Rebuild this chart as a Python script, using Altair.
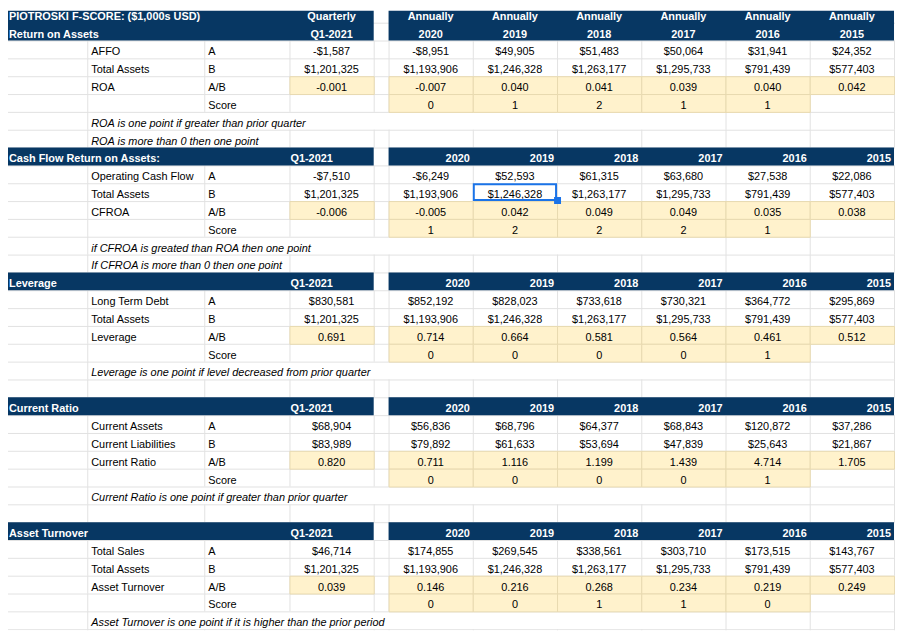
import altair as alt
import pandas as pd

# ---------------- data ----------------
YEARS = ["2020", "2019", "2018", "2017", "2016", "2015"]
QUARTER = "Q1-2021"

TOTAL_ASSETS_Q1 = 1201325
TOTAL_ASSETS = [1193906, 1246328, 1263177, 1295733, 791439, 577403]

AFFO_Q1 = -1587
AFFO = [-8951, 49905, 51483, 50064, 31941, 24352]
ROA_Q1 = -0.001
ROA = [-0.007, 0.040, 0.041, 0.039, 0.040, 0.042]
ROA_SCORE = [0, 1, 2, 1, 1]

OCF_Q1 = -7510
OCF = [-6249, 52593, 61315, 63680, 27538, 22086]
CFROA_Q1 = -0.006
CFROA = [-0.005, 0.042, 0.049, 0.049, 0.035, 0.038]
CFROA_SCORE = [1, 2, 2, 2, 1]

LTD_Q1 = 830581
LTD = [852192, 828023, 733618, 730321, 364772, 295869]
LEVERAGE_Q1 = 0.691
LEVERAGE = [0.714, 0.664, 0.581, 0.564, 0.461, 0.512]
LEVERAGE_SCORE = [0, 0, 0, 0, 1]

CUR_ASSETS_Q1 = 68904
CUR_ASSETS = [56836, 68796, 64377, 68843, 120872, 37286]
CUR_LIAB_Q1 = 83989
CUR_LIAB = [79892, 61633, 53694, 47839, 25643, 21867]
CUR_RATIO_Q1 = 0.820
CUR_RATIO = [0.711, 1.116, 1.199, 1.439, 4.714, 1.705]
CUR_RATIO_SCORE = [0, 0, 0, 0, 1]

SALES_Q1 = 46714
SALES = [174855, 269545, 338561, 303710, 173515, 143767]
TURNOVER_Q1 = 0.039
TURNOVER = [0.146, 0.216, 0.268, 0.234, 0.219, 0.249]
TURNOVER_SCORE = [0, 0, 1, 1, 0]

SECTIONS = [
    dict(title="Return on Assets", head=0, nhead=2,
         lines=[("AFFO", "A", AFFO_Q1, AFFO, "money"),
                ("Total Assets", "B", TOTAL_ASSETS_Q1, TOTAL_ASSETS, "money"),
                ("ROA", "A/B", ROA_Q1, ROA, "ratio")],
         score=ROA_SCORE,
         notes=["ROA is one point if greater than prior quarter",
                "ROA is more than 0 then one point"]),
    dict(title="Cash Flow Return on Assets:", head=8, nhead=1,
         lines=[("Operating Cash Flow", "A", OCF_Q1, OCF, "money"),
                ("Total Assets", "B", TOTAL_ASSETS_Q1, TOTAL_ASSETS, "money"),
                ("CFROA", "A/B", CFROA_Q1, CFROA, "ratio")],
         score=CFROA_SCORE,
         notes=["if CFROA is greated than ROA then one point",
                "If CFROA is more than 0 then one point"]),
    dict(title="Leverage", head=15, nhead=1,
         lines=[("Long Term Debt", "A", LTD_Q1, LTD, "money"),
                ("Total Assets", "B", TOTAL_ASSETS_Q1, TOTAL_ASSETS, "money"),
                ("Leverage", "A/B", LEVERAGE_Q1, LEVERAGE, "ratio")],
         score=LEVERAGE_SCORE,
         notes=["Leverage is one point if level decreased from prior quarter"]),
    dict(title="Current Ratio", head=22, nhead=1,
         lines=[("Current Assets", "A", CUR_ASSETS_Q1, CUR_ASSETS, "money"),
                ("Current Liabilities", "B", CUR_LIAB_Q1, CUR_LIAB, "money"),
                ("Current Ratio", "A/B", CUR_RATIO_Q1, CUR_RATIO, "ratio")],
         score=CUR_RATIO_SCORE,
         notes=["Current Ratio is one point if greater than prior quarter"]),
    dict(title="Asset Turnover", head=29, nhead=1,
         lines=[("Total Sales", "A", SALES_Q1, SALES, "money"),
                ("Total Assets", "B", TOTAL_ASSETS_Q1, TOTAL_ASSETS, "money"),
                ("Asset Turnover", "A/B", TURNOVER_Q1, TURNOVER, "ratio")],
         score=TURNOVER_SCORE,
         notes=["Asset Turnover is one point if it is higher than the prior period"]),
]
MAIN_TITLE = "PIOTROSKI F-SCORE: ($1,000s USD)"

# ---------------- layout (sheet pixel units) ----------------
PAGE_MARGIN = 8
SHEET_W, SHEET_H = 903, 641
W = SHEET_W - PAGE_MARGIN
H = SHEET_H - 2 * PAGE_MARGIN          # keep the page from overflowing vertically
ROW_H = 18
TOP = 2
N_ROWS = 36
EDGES = [3, 88, 206, 292, 377, 392, 477, 562, 647, 732, 817, 902]
Q_COL = 3
YEAR_COLS = [5, 6, 7, 8, 9, 10]
NAVY = "#073763"
YELLOW = "#fff2cc"
YELLOW_LINE = "#e8dab0"
GRID = "#e2e2e2"
FONT = "Arial, Liberation Sans"
FS = 11


def rt(i):
    return TOP + ROW_H * i


def cx(c):
    return (EDGES[c] + EDGES[c + 1]) / 2


def money(v):
    s = "${:,}".format(abs(v))
    return "-" + s if v < 0 else s


def ratio(v):
    return "{:.3f}".format(v)


def fmt(v, kind):
    return money(v) if kind == "money" else ratio(v)


header_rows = set()
first_note_rows, second_note_rows = set(), set()
for s in SECTIONS:
    for k in range(s["nhead"]):
        header_rows.add(s["head"] + k)
    d0 = s["head"] + s["nhead"]
    first_note_rows.add(d0 + 4)
    if len(s["notes"]) > 1:
        second_note_rows.add(d0 + 5)

# gridlines
hlines = pd.DataFrame([{"x": 0, "x2": SHEET_W, "y": rt(i) + 0.5} for i in range(N_ROWS + 1)])
vl = []
for r in range(N_ROWS):
    if r in header_rows:
        continue
    for e in EDGES:
        if r in first_note_rows and e in (206, 292, 377, 392, 477, 562, 647):
            continue
        if r in second_note_rows and e == 206:
            continue
        vl.append({"x": e + 0.5, "y": rt(r), "y2": rt(r + 1)})
vlines = pd.DataFrame(vl)

# fills and texts
yel, dark = [], []
wl, wc, wr, bl, bc, il = [], [], [], [], [], []
for s in SECTIONS:
    h, nh = s["head"], s["nhead"]
    d0 = h + nh
    dark.append({"x": EDGES[0], "x2": EDGES[4], "y": rt(h), "y2": rt(h + nh)})
    dark.append({"x": EDGES[5], "x2": EDGES[11], "y": rt(h), "y2": rt(h + nh)})
    base = 15
    if nh == 2:
        wl.append({"x": 9, "y": rt(h) + base, "t": MAIN_TITLE})
        wl.append({"x": 9, "y": rt(h + 1) + base, "t": s["title"]})
        wc.append({"x": cx(Q_COL), "y": rt(h) + base, "t": "Quarterly"})
        wc.append({"x": cx(Q_COL), "y": rt(h + 1) + base, "t": QUARTER})
        for c, yr in zip(YEAR_COLS, YEARS):
            wc.append({"x": cx(c), "y": rt(h) + base, "t": "Annually"})
            wc.append({"x": cx(c), "y": rt(h + 1) + base, "t": yr})
    else:
        wl.append({"x": 9, "y": rt(h) + base, "t": s["title"]})
        wl.append({"x": EDGES[Q_COL] + 1, "y": rt(h) + base, "t": QUARTER})
        for c, yr in zip(YEAR_COLS, YEARS):
            wr.append({"x": EDGES[c + 1] - 3, "y": rt(h) + base, "t": yr})
    for k, (lab, letter, q, vals, kind) in enumerate(s["lines"]):
        r = d0 + k
        bl.append({"x": EDGES[1] + 4, "y": rt(r) + base, "t": lab})
        bl.append({"x": EDGES[2] + 4, "y": rt(r) + base, "t": letter})
        bc.append({"x": cx(Q_COL), "y": rt(r) + base, "t": fmt(q, kind)})
        for c, v in zip(YEAR_COLS, vals):
            bc.append({"x": cx(c), "y": rt(r) + base, "t": fmt(v, kind)})
        if kind == "ratio":
            for c in [Q_COL] + YEAR_COLS:
                yel.append({"x": EDGES[c] + 0.5, "x2": EDGES[c + 1] + 0.5,
                            "y": rt(r) + 0.5, "y2": rt(r + 1) + 0.5})
    rs = d0 + 3
    bl.append({"x": EDGES[2] + 4, "y": rt(rs) + base, "t": "Score"})
    for c, v in zip(YEAR_COLS, s["score"]):
        bc.append({"x": cx(c), "y": rt(rs) + base, "t": str(v)})
        yel.append({"x": EDGES[c] + 0.5, "x2": EDGES[c + 1] + 0.5,
                    "y": rt(rs) + 0.5, "y2": rt(rs + 1) + 0.5})
    for k, note in enumerate(s["notes"]):
        il.append({"x": EDGES[1] + 4, "y": rt(d0 + 4 + k) + base, "t": note})

# selected cell (2019 Total Assets in Cash Flow section)
sel_r, sel_c = 10, 6
sel = pd.DataFrame([{"x": EDGES[sel_c] + 1, "x2": EDGES[sel_c + 1] - 1,
                     "y": rt(sel_r) + 1, "y2": rt(sel_r + 1) - 1}])
handle = pd.DataFrame([{"x": EDGES[sel_c + 1] - 3, "x2": EDGES[sel_c + 1] + 4,
                        "y": rt(sel_r + 1) - 4, "y2": rt(sel_r + 1) + 3}])

xs = alt.Scale(domain=[PAGE_MARGIN, PAGE_MARGIN + W], range=[0, W], nice=False, zero=False)
ys = alt.Scale(domain=[PAGE_MARGIN, PAGE_MARGIN + H], range=[0, H], nice=False, zero=False)


def X(f="x"):
    return alt.X(f + ":Q", scale=xs, axis=None)


def Y(f="y"):
    return alt.Y(f + ":Q", scale=ys, axis=None)


def rects(df, **kw):
    return alt.Chart(df).mark_rect(clip=True, **kw).encode(
        x=X(), x2=alt.X2("x2"), y=Y(), y2=alt.Y2("y2"))


def texts(rows, **kw):
    df = pd.DataFrame(rows)
    return alt.Chart(df).mark_text(baseline="alphabetic", font=FONT, fontSize=FS,
                                   clip=True, **kw).encode(
        x=X(), y=Y(), text="t:N")


layers = [
    alt.Chart(hlines).mark_rule(color=GRID, strokeWidth=1, clip=True).encode(
        x=X(), x2=alt.X2("x2"), y=Y()),
    alt.Chart(vlines).mark_rule(color=GRID, strokeWidth=1, clip=True).encode(
        x=X(), y=Y(), y2=alt.Y2("y2")),
    rects(pd.DataFrame(yel), color=YELLOW, stroke=YELLOW_LINE, strokeWidth=1),
    rects(pd.DataFrame(dark), color=NAVY),
    texts(wl, align="left", color="white", fontWeight="bold"),
    texts(wc, align="center", color="white", fontWeight="bold"),
    texts(wr, align="right", color="white", fontWeight="bold"),
    texts(bl, align="left", color="#000000"),
    texts(bc, align="center", color="#000000"),
    texts(il, align="left", color="#000000", fontStyle="italic"),
    rects(sel, filled=False, stroke="#1a73e8", strokeWidth=2),
    rects(handle, color="#1a73e8"),
]

chart = alt.layer(*layers).properties(
    width=W, height=H, padding=0, autosize="none", background="white"
).configure_view(stroke=None)

chart.save("out.html", embed_options={"renderer": "svg", "actions": False})
